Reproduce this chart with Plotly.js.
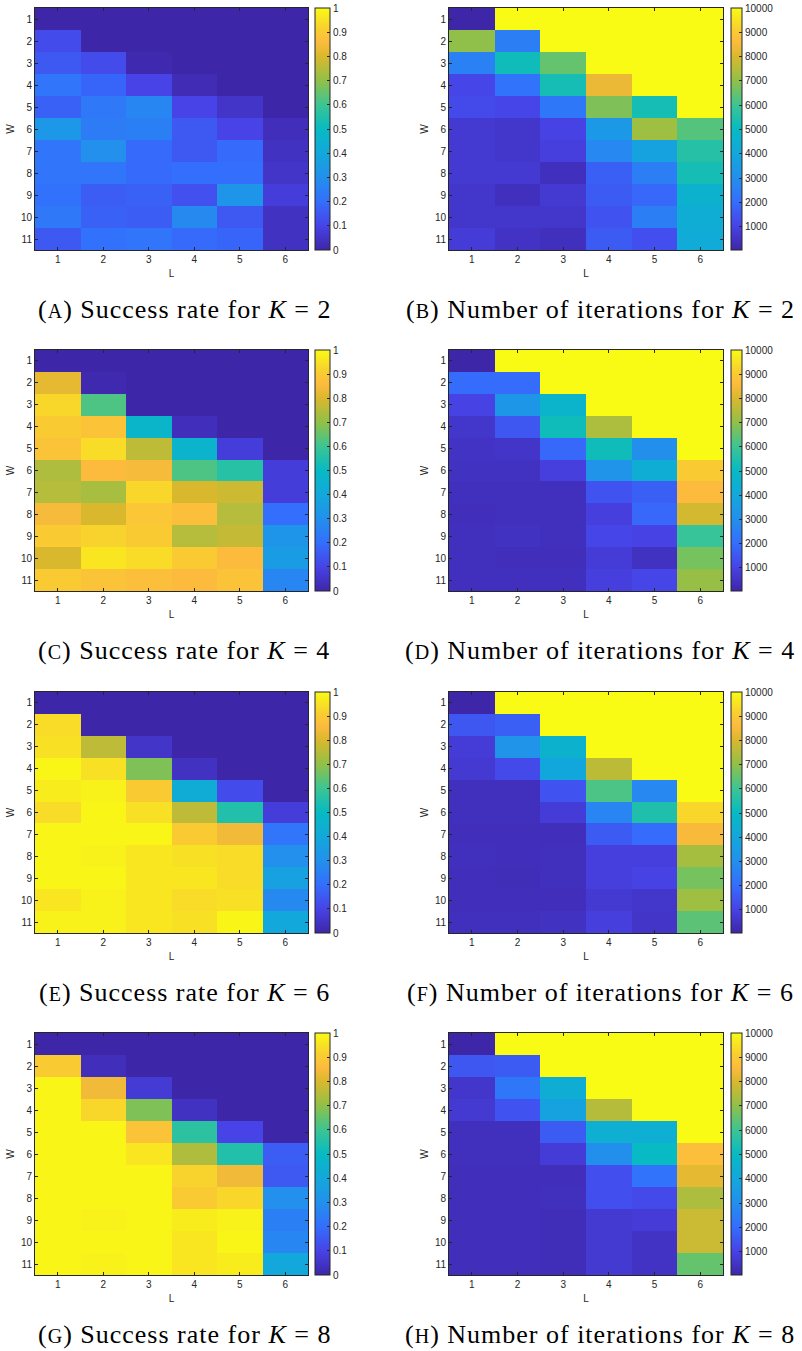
<!DOCTYPE html>
<html><head><meta charset="utf-8">
<script src="https://cdn.plot.ly/plotly-3.0.1.min.js"></script>
<style>
html,body{margin:0;padding:0;background:#fff}
.annotation-text{letter-spacing:1px}
</style>
</head><body>
<div id="chart" style="width:802px;height:1351px"></div>
<script>
// ---------------- data ----------------
const L = [1, 2, 3, 4, 5, 6];
const W = [1, 2, 3, 4, 5, 6, 7, 8, 9, 10, 11];
const successTicks = [0, 0.1, 0.2, 0.3, 0.4, 0.5, 0.6, 0.7, 0.8, 0.9, 1];
const iterTicks = [1000, 2000, 3000, 4000, 5000, 6000, 7000, 8000, 9000, 10000];
const Kvalues = [2, 4, 6, 8];

// success rate, rows = W (1..11), cols = L (1..6)
const successK2 = [
  [0, 0, 0, 0, 0, 0],
  [0.12, 0, 0, 0, 0, 0],
  [0.15, 0.12, 0.01, 0, 0, 0],
  [0.22, 0.18, 0.10, 0.02, 0, 0],
  [0.17, 0.23, 0.27, 0.10, 0.05, 0],
  [0.33, 0.24, 0.25, 0.15, 0.10, 0.03],
  [0.22, 0.30, 0.19, 0.15, 0.19, 0.04],
  [0.22, 0.22, 0.19, 0.20, 0.20, 0.05],
  [0.21, 0.16, 0.17, 0.13, 0.32, 0.08],
  [0.23, 0.17, 0.16, 0.28, 0.15, 0.04],
  [0.15, 0.21, 0.22, 0.19, 0.18, 0.04]
];
const itersK2 = [
  [50, 10000, 10000, 10000, 10000, 10000],
  [7000, 2500, 10000, 10000, 10000, 10000],
  [2600, 5200, 6500, 10000, 10000, 10000],
  [1100, 2200, 5300, 8300, 10000, 10000],
  [1200, 1100, 2300, 6800, 5300, 10000],
  [700, 600, 1000, 3400, 7200, 6300],
  [700, 600, 900, 2800, 3800, 5600],
  [700, 700, 400, 1700, 2500, 5300],
  [600, 400, 700, 1600, 1900, 4600],
  [600, 600, 600, 1400, 2500, 4300],
  [800, 500, 400, 1600, 1300, 4200]
];
const successK4 = [
  [0, 0, 0, 0, 0, 0],
  [0.82, 0.01, 0, 0, 0, 0],
  [0.93, 0.62, 0, 0, 0, 0],
  [0.90, 0.88, 0.47, 0.03, 0, 0],
  [0.88, 0.94, 0.76, 0.46, 0.08, 0],
  [0.74, 0.86, 0.85, 0.62, 0.56, 0.08],
  [0.75, 0.73, 0.93, 0.80, 0.78, 0.08],
  [0.85, 0.80, 0.89, 0.87, 0.75, 0.20],
  [0.90, 0.92, 0.90, 0.75, 0.77, 0.32],
  [0.80, 0.96, 0.94, 0.90, 0.86, 0.35],
  [0.90, 0.88, 0.87, 0.86, 0.88, 0.27]
];
const itersK4 = [
  [50, 10000, 10000, 10000, 10000, 10000],
  [2000, 2000, 10000, 10000, 10000, 10000],
  [1000, 3300, 4700, 10000, 10000, 10000],
  [600, 1500, 5200, 7400, 10000, 10000],
  [500, 550, 1900, 5200, 3000, 10000],
  [450, 450, 900, 3200, 4300, 9000],
  [400, 400, 400, 1400, 1700, 8600],
  [350, 400, 400, 900, 1900, 7900],
  [400, 450, 400, 1100, 1000, 5900],
  [400, 350, 350, 800, 450, 6700],
  [400, 400, 400, 900, 1100, 7100]
];
const successK6 = [
  [0, 0, 0, 0, 0, 0],
  [0.94, 0, 0, 0, 0, 0],
  [0.95, 0.76, 0.05, 0, 0, 0],
  [0.99, 0.95, 0.68, 0.04, 0, 0],
  [0.97, 0.98, 0.90, 0.42, 0.12, 0],
  [0.94, 0.99, 0.95, 0.76, 0.55, 0.08],
  [0.99, 0.99, 0.99, 0.90, 0.84, 0.22],
  [0.99, 0.98, 0.96, 0.95, 0.94, 0.30],
  [0.99, 0.99, 0.96, 0.96, 0.94, 0.37],
  [0.96, 0.98, 0.96, 0.94, 0.95, 0.28],
  [0.98, 0.98, 0.96, 0.95, 0.99, 0.40]
];
const itersK6 = [
  [50, 10000, 10000, 10000, 10000, 10000],
  [1500, 1700, 10000, 10000, 10000, 10000],
  [800, 3200, 4600, 10000, 10000, 10000],
  [700, 1200, 4000, 7600, 10000, 10000],
  [400, 400, 1400, 6200, 2800, 10000],
  [400, 400, 800, 2700, 5500, 9300],
  [350, 350, 350, 1600, 2000, 8500],
  [400, 350, 400, 900, 900, 7300],
  [350, 300, 400, 900, 1000, 6700],
  [350, 350, 350, 700, 600, 7200],
  [400, 400, 450, 900, 550, 6400]
];
const successK8 = [
  [0, 0, 0, 0, 0, 0],
  [0.90, 0.03, 0, 0, 0, 0],
  [0.99, 0.84, 0.07, 0, 0, 0],
  [0.99, 0.93, 0.68, 0.04, 0, 0],
  [0.99, 0.99, 0.88, 0.57, 0.10, 0],
  [0.99, 0.99, 0.96, 0.74, 0.55, 0.16],
  [0.99, 0.99, 0.99, 0.92, 0.84, 0.15],
  [0.99, 0.99, 0.99, 0.90, 0.93, 0.30],
  [0.99, 0.98, 0.99, 0.97, 0.98, 0.25],
  [0.99, 0.99, 0.99, 0.96, 0.99, 0.27],
  [0.99, 0.98, 0.99, 0.96, 0.97, 0.40]
];
const itersK8 = [
  [50, 10000, 10000, 10000, 10000, 10000],
  [1500, 1600, 10000, 10000, 10000, 10000],
  [600, 2300, 4300, 10000, 10000, 10000],
  [700, 1400, 3800, 7500, 10000, 10000],
  [400, 400, 1600, 4400, 4400, 10000],
  [400, 400, 800, 3000, 5000, 8700],
  [350, 350, 350, 1300, 2200, 8200],
  [350, 350, 400, 1300, 1200, 7400],
  [350, 350, 300, 700, 800, 7800],
  [350, 350, 300, 700, 500, 7800],
  [350, 350, 300, 700, 500, 6500]
];

const successSets = [successK2, successK4, successK6, successK8];
const iterSets = [itersK2, itersK4, itersK6, itersK8];
const leftLetters = ['A', 'C', 'E', 'G'];
const rightLetters = ['B', 'D', 'F', 'H'];

// ---------------- style ----------------
const parula = [
  [0.00, 'rgb(62,38,168)'],
  [0.10, 'rgb(71,67,231)'],
  [0.20, 'rgb(52,110,253)'],
  [0.30, 'rgb(34,144,236)'],
  [0.40, 'rgb(18,168,219)'],
  [0.50, 'rgb(7,186,195)'],
  [0.60, 'rgb(60,197,146)'],
  [0.70, 'rgb(145,192,72)'],
  [0.80, 'rgb(218,184,45)'],
  [0.86, 'rgb(253,187,62)'],
  [0.92, 'rgb(248,210,45)'],
  [1.00, 'rgb(249,251,20)']
];
const W_PX = 802, H_PX = 1351;
const ink = '#262626';
const tickFont = {family: 'Liberation Sans, Arial, sans-serif', size: 10, color: ink};
const rowTop = [8, 350, 692, 1033];
const rowBot = [250, 591, 933, 1275];
const colLeft = [35, 449];
const colRight = [308, 723];
const cbX = [315, 731];
const cbThick = [15, 11];
const capX = [184, 600];

const fx = px => px / W_PX;
const fy = px => 1 - px / H_PX;

const traces = [];
const layout = {
  width: W_PX, height: H_PX,
  margin: {l: 0, r: 0, t: 0, b: 0},
  paper_bgcolor: '#fff', plot_bgcolor: '#fff',
  showlegend: false,
  annotations: []
};

let n = 0;
for (let r = 0; r < 4; r++) {
  for (let c = 0; c < 2; c++) {
    n++;
    const xa = n === 1 ? 'xaxis' : 'xaxis' + n;
    const ya = n === 1 ? 'yaxis' : 'yaxis' + n;
    const isSuccess = c === 0;
    const z = isSuccess ? successSets[r] : iterSets[r];
    const ticksArr = isSuccess ? successTicks : iterTicks;
    const tr = {
      type: 'heatmap',
      x: L, y: W, z: z,
      xaxis: 'x' + (n === 1 ? '' : n),
      yaxis: 'y' + (n === 1 ? '' : n),
      colorscale: parula,
      hoverinfo: 'x+y+z',
      colorbar: {
        x: fx(cbX[c]), xanchor: 'left', xref: 'paper',
        y: fy(rowTop[r]), yanchor: 'top', yref: 'paper',
        len: (rowBot[r] - rowTop[r]) / H_PX, lenmode: 'fraction',
        thickness: cbThick[c], thicknessmode: 'pixels',
        xpad: 0, ypad: 0,
        outlinecolor: ink, outlinewidth: 1,
        ticks: 'inside', ticklen: 3, tickcolor: ink,
        tickvals: ticksArr, ticktext: ticksArr.map(v => String(v)),
        tickfont: tickFont
      }
    };
    if (isSuccess) { tr.zmin = 0; tr.zmax = 1; }
    traces.push(tr);

    const axCommon = {
      showline: true, linecolor: ink, linewidth: 1, mirror: 'ticks',
      ticks: 'inside', ticklen: 3, tickcolor: ink, tickwidth: 1,
      showgrid: false, zeroline: false, tickfont: tickFont,
      fixedrange: true
    };
    layout[xa] = Object.assign({}, axCommon, {
      domain: [fx(colLeft[c]), fx(colRight[c])],
      anchor: 'y' + (n === 1 ? '' : n),
      tickvals: L, range: [0.5, 6.5],
      title: {text: 'L', font: {family: 'Liberation Sans, Arial, sans-serif', size: 10, color: ink}, standoff: 5}
    });
    layout[ya] = Object.assign({}, axCommon, {
      domain: [fy(rowBot[r]), fy(rowTop[r])],
      anchor: 'x' + (n === 1 ? '' : n),
      tickvals: W, range: [11.5, 0.5],
      title: {text: 'W', font: {family: 'Liberation Sans, Arial, sans-serif', size: 10, color: ink}, standoff: 4}
    });

    const letter = isSuccess ? leftLetters[r] : rightLetters[r];
    const desc = isSuccess ? 'Success rate for ' : 'Number of iterations for ';
    layout.annotations.push({
      xref: 'paper', yref: 'paper',
      x: fx(capX[c]), y: fy(rowBot[r] + 59),
      xanchor: 'center', yanchor: 'middle',
      showarrow: false,
      text: '(<span style="font-size:20px">' + letter + '</span>) ' + desc + '<i>K</i> = ' + Kvalues[r],
      font: {family: 'Liberation Serif, Times New Roman, serif', size: 26, color: '#000'}
    });
  }
}

Plotly.newPlot('chart', traces, layout, {displayModeBar: false, staticPlot: true});
</script>
</body></html>
